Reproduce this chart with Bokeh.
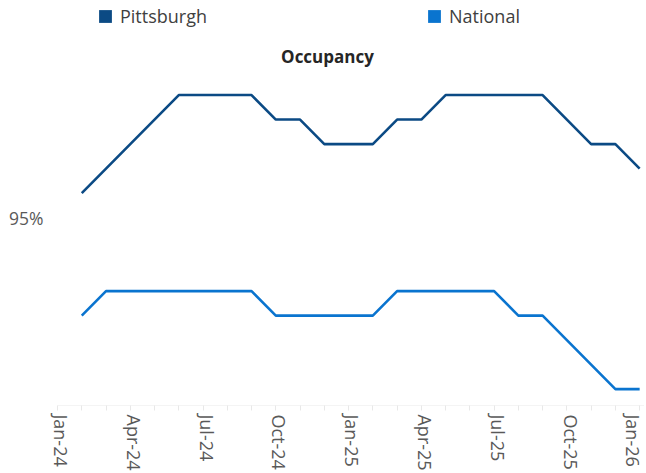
from bokeh.plotting import figure
from bokeh.models import (ColumnDataSource, FixedTicker, Range1d, Legend, LegendItem, Label)
from bokeh.embed import file_html
from bokeh.resources import INLINE

# ---- data ----
axis_months = ["Jan-24", "Feb-24", "Mar-24", "Apr-24", "May-24", "Jun-24", "Jul-24",
               "Aug-24", "Sep-24", "Oct-24", "Nov-24", "Dec-24", "Jan-25", "Feb-25",
               "Mar-25", "Apr-25", "May-25", "Jun-25", "Jul-25", "Aug-25", "Sep-25",
               "Oct-25", "Nov-25", "Dec-25", "Jan-26"]
data_months = axis_months[1:]
pittsburgh = [95.1, 95.2, 95.3, 95.4, 95.5, 95.5, 95.5, 95.5, 95.4, 95.4, 95.3, 95.3,
              95.3, 95.4, 95.4, 95.5, 95.5, 95.5, 95.5, 95.5, 95.4, 95.3, 95.3, 95.2]
national = [94.6, 94.7, 94.7, 94.7, 94.7, 94.7, 94.7, 94.7, 94.6, 94.6, 94.6, 94.6,
            94.6, 94.7, 94.7, 94.7, 94.7, 94.7, 94.6, 94.6, 94.5, 94.4, 94.3, 94.3]
tick_labels = ["Jan-24", "Apr-24", "Jul-24", "Oct-24", "Jan-25", "Apr-25", "Jul-25",
               "Oct-25", "Jan-26"]
y_ticks = [95]
y_tick_labels = ["95%"]
title_text = "Occupancy"

C_PIT = "#0b4a84"
C_NAT = "#0a74cf"
FONT = "Open Sans"
LABEL_SHIFT = 0.15   # small visual offset of rotated month labels

x_idx = [axis_months.index(m) for m in data_months]
src = ColumnDataSource(dict(x=x_idx, pit=pittsburgh, nat=national))
nan = float("nan")
proxy = ColumnDataSource(dict(l=[nan], r=[nan], b=[nan], t=[nan]))

p = figure(frame_width=587, frame_height=405, output_backend="svg", toolbar_location=None,
           x_range=Range1d(0, 24.2), y_range=Range1d(94.233, 95.886),
           min_border_left=57, min_border_right=0, min_border_top=0, min_border_bottom=0)
p.outline_line_color = None
p.xgrid.grid_line_color = None
p.ygrid.grid_line_color = None

r_pit = p.line("x", "pit", source=src, line_color=C_PIT, line_width=2.6)
r_nat = p.line("x", "nat", source=src, line_color=C_NAT, line_width=2.6)

# legend proxies (filled boxes, not drawn in the plot)
q_pit = p.quad(left="l", right="r", bottom="b", top="t", source=proxy,
               fill_color=C_PIT, line_color=None)
q_nat = p.quad(left="l", right="r", bottom="b", top="t", source=proxy,
               fill_color=C_NAT, line_color=None)

# x axis: month ticks drawn as minor ticks
major_pos = [axis_months.index(t) + LABEL_SHIFT for t in tick_labels]
p.xaxis.ticker = FixedTicker(ticks=major_pos, minor_ticks=list(range(len(axis_months))))
p.xaxis.major_label_overrides = {v: t for v, t in zip(major_pos, tick_labels)}
p.xaxis.major_label_orientation = "vertical"
p.xaxis.major_label_text_font = FONT
p.xaxis.major_label_text_font_size = "18px"
p.xaxis.major_label_text_color = "#595959"
p.xaxis.axis_line_color = "#f4f4f4"
p.xaxis.major_tick_line_color = None
p.xaxis.minor_tick_line_color = "#e8e8e8"
p.xaxis.major_tick_out = 5
p.xaxis.major_tick_in = 0
p.xaxis.minor_tick_out = 5
p.xaxis.minor_tick_in = 0
p.xaxis.major_label_standoff = 4

# y axis
p.yaxis.ticker = FixedTicker(ticks=y_ticks, minor_ticks=[])
p.yaxis.major_label_overrides = {v: t for v, t in zip(y_ticks, y_tick_labels)}
p.yaxis.major_label_text_font = FONT
p.yaxis.major_label_text_font_size = "17.5px"
p.yaxis.major_label_text_color = "#595959"
p.yaxis.axis_line_color = None
p.yaxis.major_tick_line_color = None
p.yaxis.minor_tick_line_color = None
p.yaxis.major_tick_out = 6
p.yaxis.major_label_standoff = 8

# title (inside the plot area, between legend and lines)
title = Label(x=270, y=349, x_units="screen", y_units="screen", text=title_text,
              text_align="center", text_baseline="middle", text_font=FONT,
              text_font_size="17px", text_font_style="bold", text_color="#262626")
p.add_layout(title)

legend = Legend(items=[LegendItem(label="Pittsburgh", renderers=[q_pit]),
                       LegendItem(label="National", renderers=[q_nat])],
                orientation="horizontal", location=(40, 377),
                glyph_width=16, glyph_height=16, label_standoff=7, spacing=219,
                padding=2, margin=0, border_line_color=None,
                background_fill_alpha=0,
                label_text_font=FONT, label_text_font_size="18px",
                label_text_color="#404040")
p.add_layout(legend, "center")

open("out.html", "w").write(file_html(p, INLINE))
